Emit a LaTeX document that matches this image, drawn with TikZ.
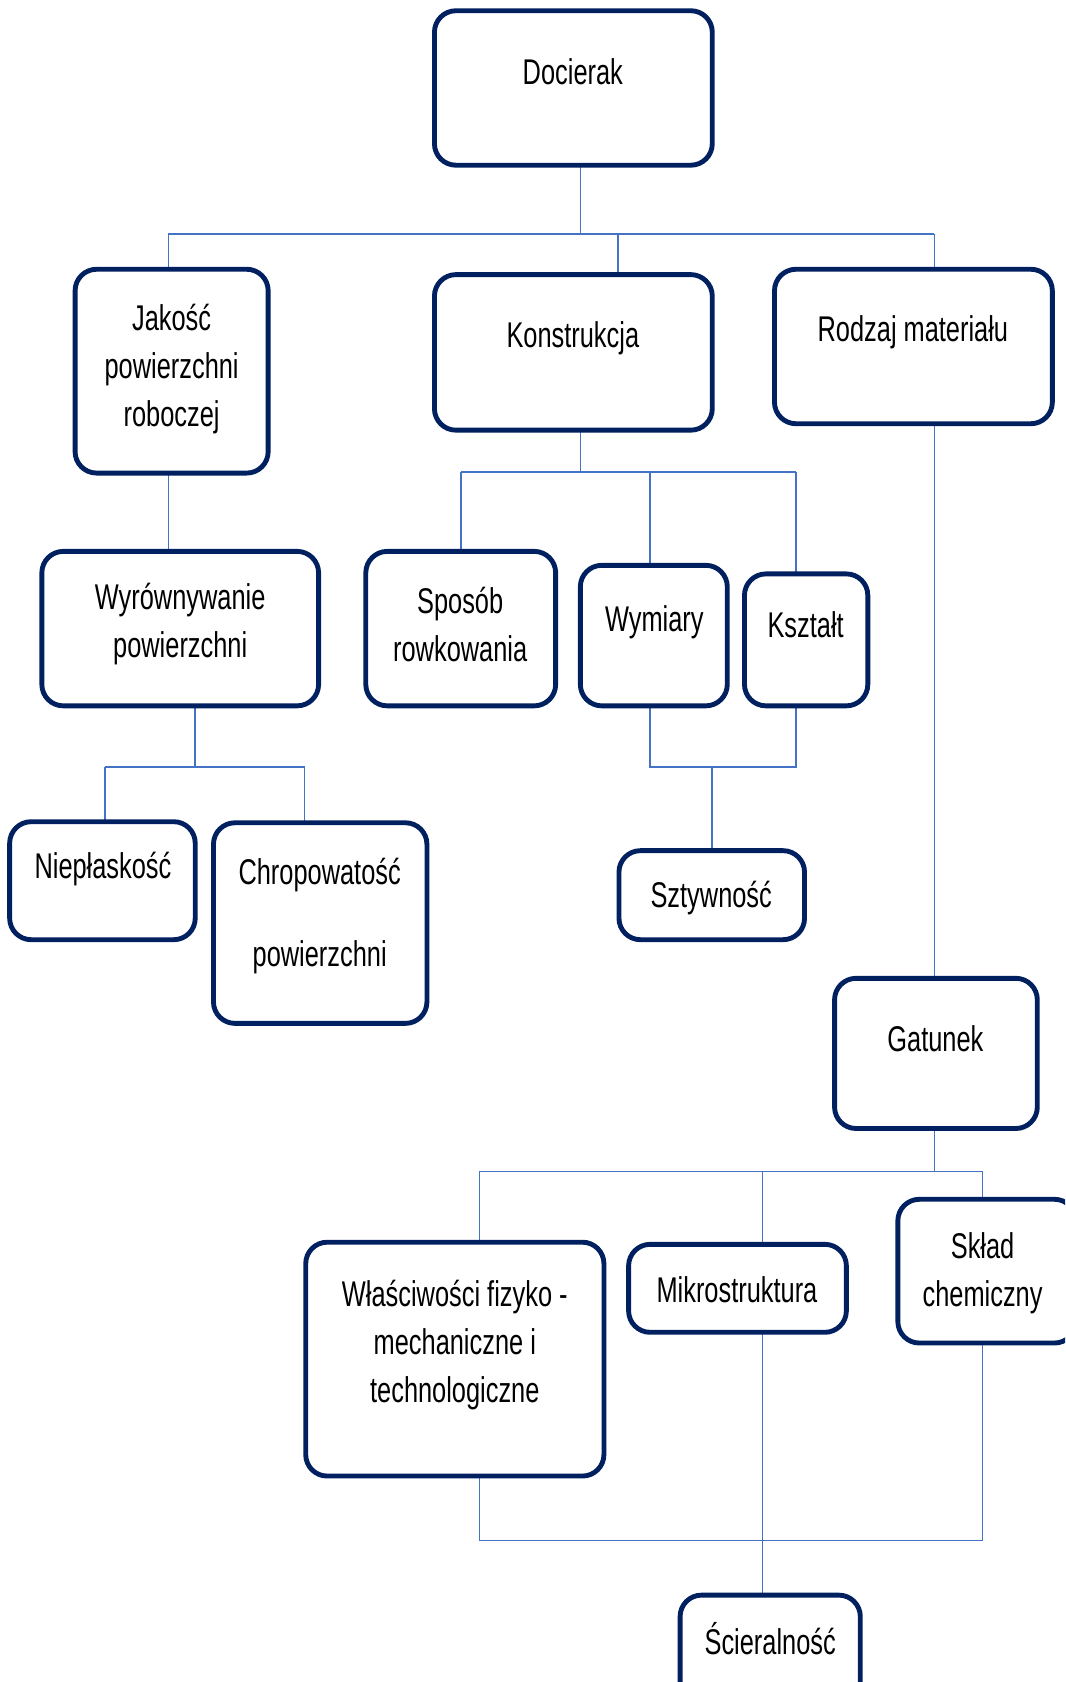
\documentclass[tikz,border=0pt]{standalone}
\usepackage{fontspec}
\setmainfont[FakeStretch=0.71]{Liberation Sans}
\pgfdeclarelayer{background}
\pgfsetlayers{background,main}
\definecolor{boxnavy}{RGB}{0,32,96}
\definecolor{linkblue}{RGB}{68,114,196}
\tikzset{
  box/.style={draw=boxnavy, line width=3.4pt, rounded corners=15pt, fill=white,
    inner sep=0pt, outer sep=0pt, rectangle},
  txt/.style={font=\fontsize{25pt}{33.75pt}\selectfont, align=center,
    inner sep=0pt, text=black},
  link/.style={draw=linkblue, line width=1.1pt},
}
% box given by its corner coordinates x1,y1,x2,y2 (y grows downward)
\newcommand\flowbox[5]{%
  \node[box, minimum width={(#4-#2)*0.75pt}, minimum height={(#5-#3)*0.75pt}]
    (#1) at ({(#2+#4)/2},{(#3+#5)/2}) {};}
\begin{document}
\begin{tikzpicture}[x=0.75pt, y=-0.75pt]
\useasboundingbox (0,0) rectangle (993,1568);
\clip (0,0) rectangle (993,1568);

% boxes
\flowbox{doc}{405}{10}{664}{154}
\flowbox{jak}{70}{251}{250}{441}
\flowbox{kon}{405}{256}{664}{401}
\flowbox{rod}{722}{251}{981}{395}
\flowbox{wyr}{39}{514}{297}{658}
\flowbox{spo}{341}{514}{518}{658}
\flowbox{wym}{541}{527}{678}{658}
\flowbox{ksz}{694}{535}{809}{658}
\flowbox{nie}{9}{766}{182}{876}
\flowbox{chr}{199}{767}{398}{954}
\flowbox{szt}{577}{793}{750}{876}
\flowbox{gat}{778}{912}{967}{1052}
\flowbox{wla}{285}{1158}{563}{1376}
\flowbox{mik}{586}{1160}{789}{1242}
\flowbox{skl}{837}{1118}{1003}{1252}
\flowbox{sci}{634}{1487}{802}{1590}

% labels
\node[txt] (t-doc) at (534,67) {Docierak};
\node[txt] (t-jak) at (160,344) {Jakość\\powierzchni\\roboczej};
\node[txt] (t-kon) at (534,315) {Konstrukcja};
\node[txt] (t-rod) at (851,310) {Rodzaj materiału};
\node[txt] (t-wyr) at (168,582) {Wyrównywanie\\powierzchni};
\node[txt] (t-spo) at (429,582) {Sposób\\rowkowania};
\node[txt] (t-wym) at (610,580) {Wymiary};
\node[txt] (t-ksz) at (751,582) {Kształt};
\node[txt] (t-nie) at (96,810) {Niepłaskość};
\node[txt] (t-chr1) at (298,816) {Chropowatość};
\node[txt] (t-chr2) at (298,892) {powierzchni};
\node[txt] (t-szt) at (663,837) {Sztywność};
\node[txt] (t-gat) at (872,968) {Gatunek};
\node[txt] (t-wla) at (424,1254) {Właściwości fizyko -\\mechaniczne i\\technologiczne};
\node[txt] (t-mik) at (687,1202) {Mikrostruktura};
\node[txt] (t-skl) at (916,1187) {Skład\\chemiczny};
\node[txt] (t-sci) at (718,1528) {Ścieralność};

% bus junctions
\coordinate (b1) at (541,218);
\coordinate (b2) at (541,440);
\coordinate (b3) at (182,715);
\coordinate (b4) at (664,715);
\coordinate (b5) at (871,1092);
\coordinate (b6) at (711,1436);

\begin{pgfonlayer}{background}
  % level 1
  \draw[link] (doc.south -| b1) -- (b1);
  \draw[link] (b1 -| 157,0) coordinate (b1l) -- (b1 -| 871,0) coordinate (b1r);
  \draw[link] (b1l) -- (jak.north -| b1l);
  \draw[link] (b1 -| 576,0) -- (kon.north -| 576,0);
  \draw[link] (b1r) -- (rod.north -| b1r);
  % Konstrukcja
  \draw[link] (kon.south -| b2) -- (b2);
  \draw[link] (b2 -| 430,0) coordinate (b2l) -- (b2 -| 742,0) coordinate (b2r);
  \draw[link] (b2l) -- (spo.north -| b2l);
  \draw[link] (b2 -| 606,0) -- (wym.north -| 606,0);
  \draw[link] (b2r) -- (ksz.north -| b2r);
  % Jakość -> Wyrównywanie
  \draw[link] (jak.south -| b1l) -- (wyr.north -| b1l);
  % Wyrównywanie
  \draw[link] (wyr.south -| b3) -- (b3);
  \draw[link] (b3 -| 98,0) coordinate (b3l) -- (b3 -| 284,0) coordinate (b3r);
  \draw[link] (b3l) -- (nie.north -| b3l);
  \draw[link] (b3r) -- (chr.north -| b3r);
  % Wymiary, Kształt -> Sztywność
  \draw[link] (wym.south -| 606,0) -- (b4 -| 606,0) -- (b4 -| 742,0) -- (ksz.south -| 742,0);
  \draw[link] (b4) -- (szt.north -| b4);
  % Rodzaj materiału -> Gatunek
  \draw[link] (rod.south -| b5) -- (gat.north -| b5);
  % Gatunek
  \draw[link] (gat.south -| b5) -- (b5);
  \draw[link] (b5 -| 447,0) coordinate (b5l) -- (b5 -| 916,0) coordinate (b5r);
  \draw[link] (b5l) -- (wla.north -| b5l);
  \draw[link] (b5 -| b6) -- (mik.north -| b6);
  \draw[link] (b5r) -- (skl.north -| b5r);
  % -> Ścieralność
  \draw[link] (wla.south -| b5l) -- (b6 -| b5l) -- (b6 -| b5r) -- (skl.south -| b5r);
  \draw[link] (mik.south -| b6) -- (sci.north -| b6);
\end{pgfonlayer}
\end{tikzpicture}
\end{document}
